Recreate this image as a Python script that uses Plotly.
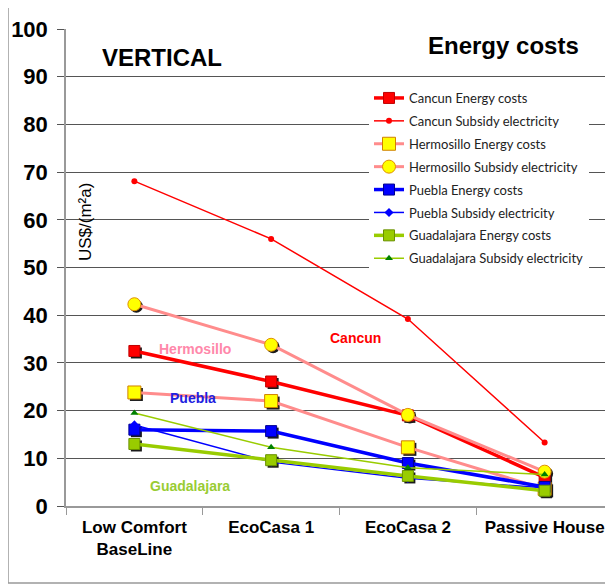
import plotly.graph_objects as go

categories = ["Low Comfort<br>BaseLine", "EcoCasa 1", "EcoCasa 2", "Passive House"]

cancun_energy = [32.5, 26.1, 19.0, 6.0]
cancun_subsidy = [68.1, 56.0, 39.2, 13.3]
hermosillo_energy = [23.8, 22.0, 12.3, 3.6]
hermosillo_subsidy = [42.3, 33.8, 19.1, 7.2]
puebla_energy = [16.0, 15.7, 9.0, 4.0]
puebla_subsidy = [17.0, 9.2, 5.8, 3.8]
guadalajara_energy = [13.0, 9.6, 6.3, 3.2]
guadalajara_subsidy = [19.5, 12.3, 8.0, 6.6]

y_ticks = [0, 10, 20, 30, 40, 50, 60, 70, 80, 90, 100]

ARIAL = "Liberation Sans, Arial, sans-serif"

# page body has ~8px offset; compensate
OFF = 8
W, H = 613 - OFF, 586 - OFF
L, T, B = 66 - OFF, 29 - OFF, 80
PW = W - L          # plot width in px
PH = H - T - B      # plot height in px


def px_x(px):   # screenshot x -> paper
    return (px - 66) / PW


def px_y(py):   # screenshot y -> paper
    return (506 - py) / PH


series = [
    ("Cancun Energy costs", cancun_energy, dict(color="#ff0000", width=3.5),
     dict(symbol="square", size=11, color="#ff0000", line=dict(color="#c00000", width=1)), True),
    ("Cancun Subsidy electricity", cancun_subsidy, dict(color="#ff0000", width=1.5),
     dict(symbol="circle", size=6, color="#ff0000"), False),
    ("Hermosillo Energy costs", hermosillo_energy, dict(color="#ff8c8c", width=3),
     dict(symbol="square", size=13, color="#ffff00", line=dict(color="#d08000", width=1)), True),
    ("Hermosillo Subsidy electricity", hermosillo_subsidy, dict(color="#ff8c8c", width=3),
     dict(symbol="circle", size=13, color="#ffff00", line=dict(color="#e09000", width=1)), True),
    ("Puebla Energy costs", puebla_energy, dict(color="#0000ff", width=3.5),
     dict(symbol="square", size=11, color="#0000ff", line=dict(color="#000090", width=1)), True),
    ("Puebla Subsidy electricity", puebla_subsidy, dict(color="#0000ff", width=1.5),
     dict(symbol="diamond", size=7, color="#0000ff"), False),
    ("Guadalajara Energy costs", guadalajara_energy, dict(color="#99cc00", width=3.5),
     dict(symbol="square", size=11, color="#99cc00", line=dict(color="#6a9000", width=1)), True),
    ("Guadalajara Subsidy electricity", guadalajara_subsidy, dict(color="#99cc00", width=1.5),
     dict(symbol="triangle-up", size=7, color="#008000"), False),
]

fig = go.Figure()

# drop shadows on the base axes (drawn underneath)
for name, vals, line, marker, shadow in series:
    if shadow:
        fig.add_trace(go.Scatter(
            x=categories, y=vals, mode="markers", showlegend=False, hoverinfo="skip",
            marker=dict(symbol=marker["symbol"], size=marker["size"], color="#1a1a1a"),
            xaxis="x", yaxis="y",
        ))

# main series on overlay axes (drawn on top)
for i, (name, vals, line, marker, shadow) in enumerate(series):
    fig.add_trace(go.Scatter(
        x=categories, y=vals, name=name, mode="lines+markers",
        line=line, marker=marker, legendgroup=f"g{i}",
        xaxis="x2", yaxis="y2",
    ))

sx = 2.0 / (PW / 4.0)     # 2px shift in category units
sy = 2.0 / (PH / 100.0)   # 2px shift in value units

fig.update_layout(
    width=W, height=H,
    margin=dict(l=L, r=0, t=T, b=B),
    paper_bgcolor="white", plot_bgcolor="white",
    font=dict(family=ARIAL, color="black"),
    showlegend=True,
    legend=dict(
        x=px_x(369), y=px_y(83), xanchor="left", yanchor="top",
        bgcolor="white", borderwidth=0,
        font=dict(family="Lato, Liberation Sans, sans-serif", size=13, color="#222"),
        tracegroupgap=3, itemwidth=30,
    ),
    xaxis=dict(
        type="category", categoryarray=categories, range=[-0.5 - sx, 3.5 - sx],
        showgrid=False, showline=False, showticklabels=False, ticks="",
        zeroline=False,
    ),
    yaxis=dict(
        range=[0 + sy, 100 + sy], showgrid=False, showline=False,
        showticklabels=False, ticks="", zeroline=False,
    ),
    xaxis2=dict(
        type="category", categoryarray=categories, range=[-0.5, 3.5],
        overlaying="x", anchor="y2",
        showgrid=False, showline=True, linecolor="#999999", linewidth=1.5,
        ticks="outside", tickson="boundaries", ticklen=7, tickcolor="#999999",
        tickfont=dict(family=ARIAL, size=17, weight="bold", color="black"),
        ticklabelstandoff=5, zeroline=False,
    ),
    yaxis2=dict(
        range=[0, 100], tickvals=y_ticks, overlaying="y", anchor="x2", side="left",
        showgrid=True, gridcolor="#555555", gridwidth=1,
        showline=True, linecolor="#999999", linewidth=1.5,
        ticks="outside", ticklen=7, tickcolor="#555555",
        tickfont=dict(family=ARIAL, size=22, weight="bold", color="black"),
        ticklabelstandoff=5, zeroline=False,
    ),
    shapes=[
        dict(type="rect", xref="paper", yref="paper",
             x0=px_x(363), x1=1.0, y0=px_y(287), y1=px_y(80),
             fillcolor="white", line=dict(width=0), layer="between"),
        dict(type="rect", xref="paper", yref="paper",
             x0=px_x(8), x1=1.03, y0=px_y(583), y1=px_y(6),
             fillcolor="rgba(0,0,0,0)", line=dict(color="#999999", width=1.5), layer="below"),
    ],
    annotations=[
        dict(text="<b>VERTICAL</b>", xref="paper", yref="paper",
             x=px_x(162), y=px_y(57), xanchor="center", yanchor="middle", showarrow=False,
             font=dict(family=ARIAL, size=24, color="black")),
        dict(text="<b>Energy costs</b>", xref="paper", yref="paper",
             x=px_x(503), y=px_y(46), xanchor="center", yanchor="middle", showarrow=False,
             font=dict(family=ARIAL, size=24, color="black")),
        dict(text="US$/(m²a)", xref="paper", yref="paper",
             x=px_x(86), y=px_y(222), xanchor="center", yanchor="middle", showarrow=False,
             textangle=-90, font=dict(family=ARIAL, size=17, color="black")),
        dict(text="<b>Cancun</b>", xref="x2", yref="y2", x=1.62, y=35.2, showarrow=False,
             font=dict(family=ARIAL, size=14, color="#ff0000")),
        dict(text="<b>Hermosillo</b>", xref="x2", yref="y2", x=0.44, y=32.9, showarrow=False,
             font=dict(family=ARIAL, size=14, color="#ff88aa")),
        dict(text="<b>Puebla</b>", xref="x2", yref="y2", x=0.43, y=22.6, showarrow=False,
             font=dict(family=ARIAL, size=14, color="#2020e0")),
        dict(text="<b>Guadalajara</b>", xref="x2", yref="y2", x=0.41, y=4.2, showarrow=False,
             font=dict(family=ARIAL, size=14, color="#99cc33")),
    ],
)

fig.write_html("out.html")
